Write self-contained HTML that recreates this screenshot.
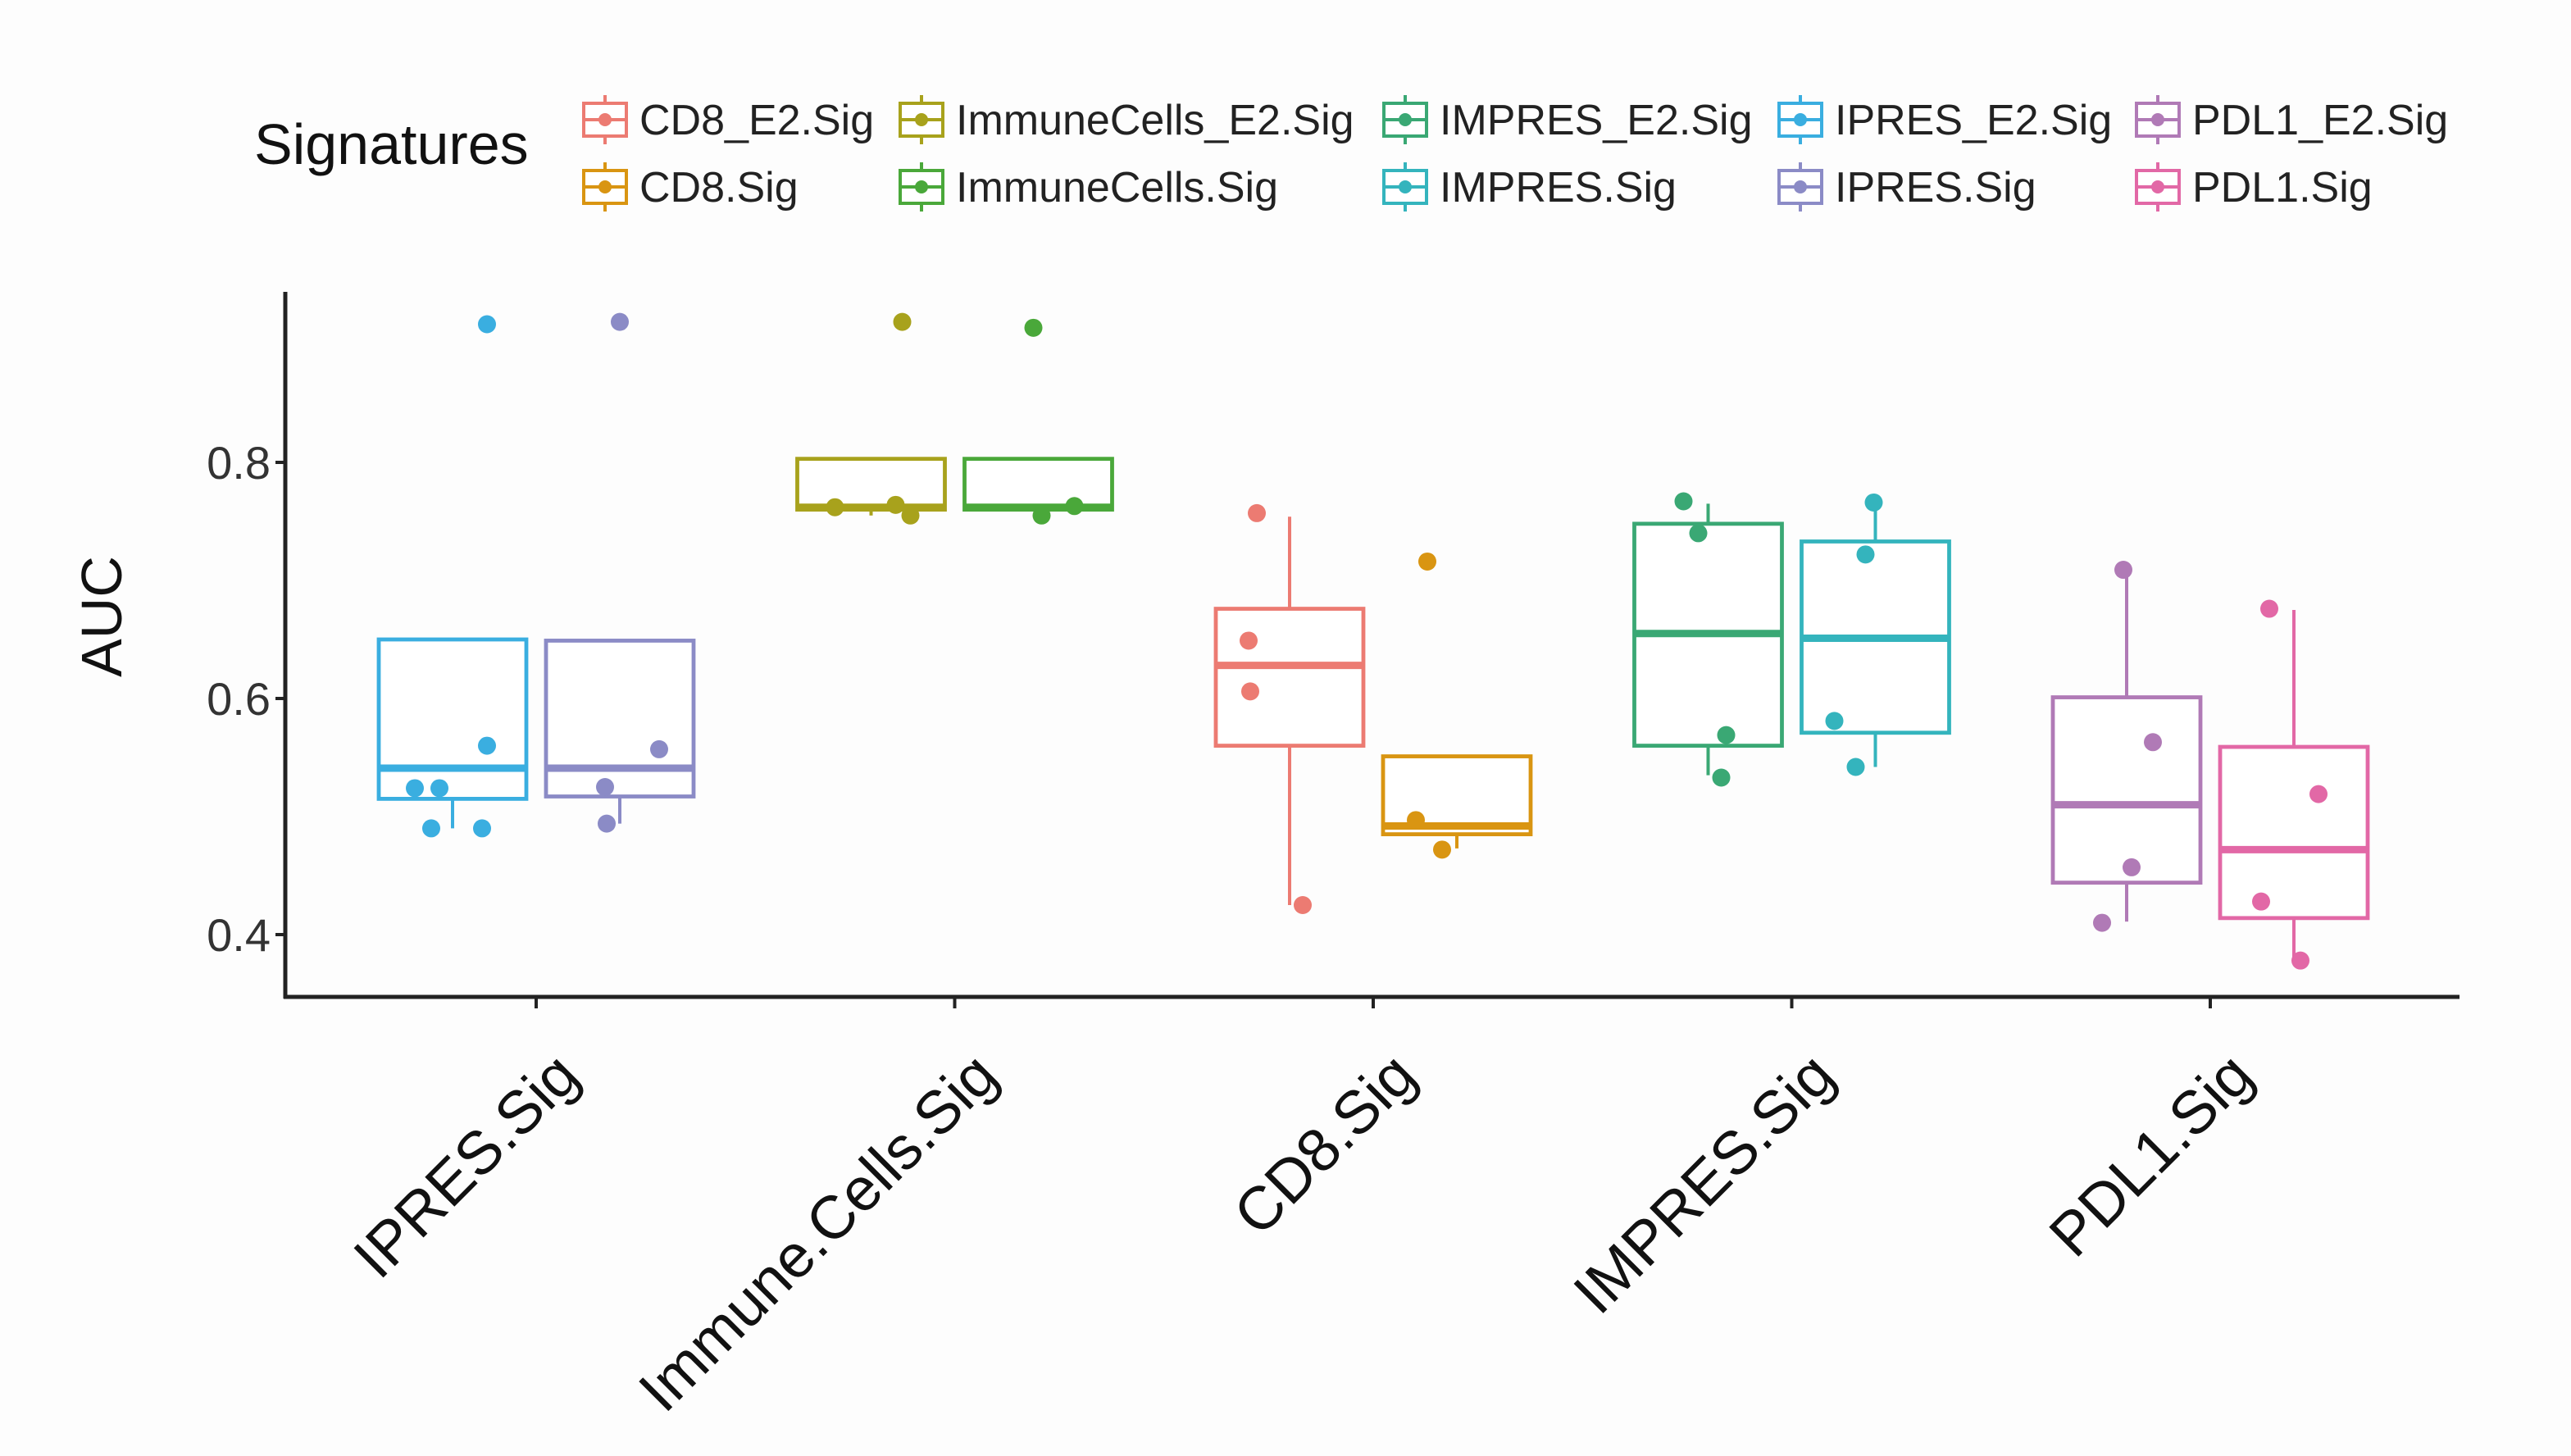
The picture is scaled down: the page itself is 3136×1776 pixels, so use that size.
<!DOCTYPE html>
<html><head><meta charset="utf-8"><style>
html,body{margin:0;padding:0;background:#fff}
svg{display:block;font-family:"Liberation Sans",Arial,sans-serif}
</style></head><body>
<svg id="chart" width="3136" height="1776" viewBox="0 0 1568 888" xmlns="http://www.w3.org/2000/svg">
<rect width="1568" height="888" fill="#fdfdfd"/>
<g id="legend"></g>
<g id="plot"></g>
</svg>
<script>
const categories = ["IPRES.Sig","Immune.Cells.Sig","CD8.Sig","IMPRES.Sig","PDL1.Sig"];
const seriesNames = ["IPRES_E2.Sig","IPRES.Sig","ImmuneCells_E2.Sig","ImmuneCells.Sig","CD8_E2.Sig","CD8.Sig","IMPRES_E2.Sig","IMPRES.Sig","PDL1_E2.Sig","PDL1.Sig"];
const seriesCategory = [0,0,1,1,2,2,3,3,4,4];
const seriesColors = ["#3aaee0","#8b8bc6","#a8a21c","#4aa83a","#ec7b72","#d99512","#3aa874","#34b4bd","#b07ab6","#e268a6"];
// [q1, median, q3, whiskerLow, whiskerHigh]
const boxStats = [
 [0.515,0.541,0.650,0.490,0.650],
 [0.517,0.541,0.649,0.494,0.649],
 [0.760,0.762,0.803,0.755,0.803],
 [0.760,0.762,0.803,0.755,0.803],
 [0.560,0.628,0.676,0.425,0.754],
 [0.485,0.492,0.551,0.473,0.551],
 [0.560,0.655,0.748,0.535,0.765],
 [0.571,0.651,0.733,0.542,0.771],
 [0.444,0.510,0.601,0.411,0.709],
 [0.414,0.472,0.559,0.378,0.675]
];
const pointValues = [
 [0.917,0.560,0.524,0.524,0.490,0.490],
 [0.919,0.557,0.525,0.494],
 [0.919,0.762,0.764,0.755],
 [0.914,0.755,0.763],
 [0.757,0.649,0.606,0.425],
 [0.716,0.497,0.472],
 [0.767,0.740,0.569,0.533],
 [0.766,0.722,0.581,0.542],
 [0.709,0.563,0.457,0.410],
 [0.676,0.519,0.428,0.378]
];
const pointJitter = [
 [21,21,-23,-8,-13,18],[0,24,-9,-8],[19,-22,15,24],[-3,2,22],
 [-20,-25,-24,8],[-18,-25,-9],[-15,-6,11,8],[-1,-6,-25,-12],[-2,16,3,-15],[-15,15,-20,4]
];
const yTicks = [0.4,0.6,0.8];
const yTickLabels = ["0.4","0.6","0.8"];
const legendOrder = ["CD8_E2.Sig","ImmuneCells_E2.Sig","IMPRES_E2.Sig","IPRES_E2.Sig","PDL1_E2.Sig","CD8.Sig","ImmuneCells.Sig","IMPRES.Sig","IPRES.Sig","PDL1.Sig"];

const NS="http://www.w3.org/2000/svg";
const X0=174, X1=1500, YB=608, YT=178;
function yScale(v){return 570-(v-0.4)*720;}
function xCat(i){return 327+i*255.25;}
function mk(tag,attrs,parent,text){const e=document.createElementNS(NS,tag);for(const k in attrs)e.setAttribute(k,attrs[k]);if(text!==undefined)e.textContent=text;parent.appendChild(e);return e;}
const plot=document.getElementById('plot');
const legend=document.getElementById('legend');

let ya=mk('line',{x1:X0,y1:YT,x2:X0,y2:YB+1,stroke:'#222','stroke-width':2.5},plot);


let xa=mk('line',{x1:X0-1,y1:YB,x2:X1,y2:YB,stroke:'#222','stroke-width':2.5},plot);


yTicks.forEach((t,i)=>{
 const y=yScale(t);
 let tk=mk('line',{x1:X0-6,y1:y,x2:X0,y2:y,stroke:'#222','stroke-width':2},plot);
 
 
 let tl=mk('text',{x:X0-9,y:y+10,'text-anchor':'end','font-size':28,fill:'#333'},plot,yTickLabels[i]);
 
 
});
let yt=mk('text',{x:0,y:0,'text-anchor':'middle','font-size':35,fill:'#111',transform:'translate(74,376) rotate(-90)'},plot,'AUC');


categories.forEach((c,i)=>{
 const x=xCat(i);
 let tk=mk('line',{x1:x,y1:YB,x2:x,y2:YB+7,stroke:'#222','stroke-width':2},plot);
 
 
 let tl=mk('text',{x:0,y:0,'text-anchor':'end','font-size':37,fill:'#111',transform:`translate(${x+28},${YB+50}) rotate(-45)`},plot,c);
 
 
});

seriesNames.forEach((s,i)=>{
 const cat=seriesCategory[i];
 const side=(i%2===0)?-1:1;
 const cx=xCat(cat)+side*51;
 const hw=45;
 const col=seriesColors[i];
 const [q1,med,q3,lo,hi]=boxStats[i];
 const g=mk('g',{},plot);
 
 
 mk('line',{x1:cx,y1:yScale(hi),x2:cx,y2:yScale(q3),stroke:col,'stroke-width':2},g);
 mk('line',{x1:cx,y1:yScale(q1),x2:cx,y2:yScale(lo),stroke:col,'stroke-width':2},g);
 mk('rect',{x:cx-hw,y:yScale(q3),width:hw*2,height:yScale(q1)-yScale(q3),fill:'#fff','fill-opacity':0.9,stroke:col,'stroke-width':2.4},g);
 mk('line',{x1:cx-hw,y1:yScale(med),x2:cx+hw,y2:yScale(med),stroke:col,'stroke-width':4.5},g);
 pointValues[i].forEach((v,j)=>{
  const p=mk('circle',{cx:cx+pointJitter[i][j],cy:yScale(v),r:5.5,fill:col},g);
  
  
 });
});

let lt=mk('text',{x:155,y:100,'font-size':35,fill:'#111'},legend,'Signatures');


const colX=[354,547,842,1083,1301];
legendOrder.forEach((s,k)=>{
 const col=seriesColors[seriesNames.indexOf(s)];
 const x=colX[k%5], y=(k<5)?73:114;
 const g=mk('g',{},legend);
 
 
 mk('line',{x1:x+15,y1:y-15,x2:x+15,y2:y+15,stroke:col,'stroke-width':2},g);
 mk('rect',{x:x+2,y:y-10,width:26,height:20,fill:'#fff',stroke:col,'stroke-width':2},g);
 mk('line',{x1:x+2,y1:y,x2:x+28,y2:y,stroke:col,'stroke-width':2},g);
 mk('circle',{cx:x+15,cy:y,r:4,fill:col},g);
 mk('text',{x:x+36,y:y+9,'font-size':26,fill:'#222','textLength':0},g,s).removeAttribute('textLength');
});
</script>
</body></html>
